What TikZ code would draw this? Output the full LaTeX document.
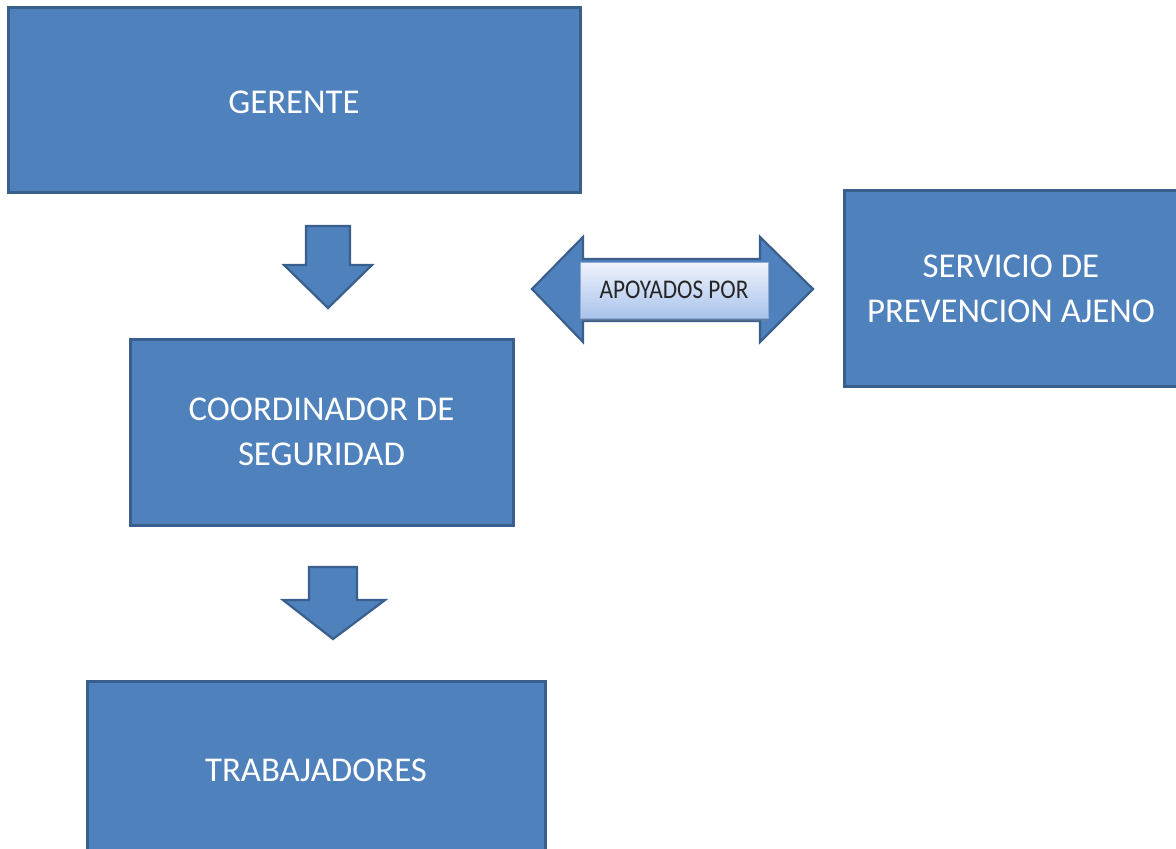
\documentclass[tikz,border=0pt]{standalone}
\usepackage{fontspec}
\setmainfont{Carlito}
\usetikzlibrary{shadows}
\definecolor{boxblue}{HTML}{4F81BD}
\definecolor{boxedge}{HTML}{3A5F8C}
\definecolor{lbltop}{HTML}{EEF3FC}
\definecolor{lblbot}{HTML}{A9C3EC}
\definecolor{lbledge}{HTML}{8EA9D3}
\tikzset{
  orgbox/.style={draw=boxedge, line width=3pt, fill=boxblue, text=white,
    align=center, inner sep=0pt, font=\fontsize{34.8}{45}\selectfont},
  blockarrow/.style={draw=boxedge, line width=2.2pt, fill=boxblue, line join=miter},
  lblbox/.style={draw=lbledge, line width=0.8pt, top color=lbltop, bottom color=lblbot,
    text=black!85, inner sep=0pt, font=\fontsize{27}{30}\selectfont,
    drop shadow={shadow xshift=0pt, shadow yshift=-3pt, opacity=0.35}}
}
\begin{document}
\begin{tikzpicture}[x=1pt,y=-1pt]
\useasboundingbox (0,0) rectangle (1176,849);
\clip (0,0) rectangle (1176,849);
% boxes
\node[orgbox, minimum width=572pt, minimum height=185pt] (ger) at (294,99.5) {\raisebox{-13.5pt}[0pt][0pt]{GERENTE}};
\node[orgbox, minimum width=383pt, minimum height=186pt] (coord) at (321.5,432) {COORDINADOR DE\\SEGURIDAD};
\node[orgbox, minimum width=333pt, minimum height=196pt] (serv) at (1011,288.5) {SERVICIO DE\\PREVENCION AJENO};
\node[orgbox, minimum width=458pt, minimum height=179pt] (trab) at (316,770.5) {TRABAJADORES};
% down arrows
\draw[blockarrow] (306,226) -- (350,226) -- (350,265) -- (372,265) -- (328,308) -- (284,265) -- (306,265) -- cycle;
\draw[blockarrow] (309,567) -- (357,567) -- (357,600) -- (385,600) -- (333,639) -- (283,600) -- (309,600) -- cycle;
% double arrow
\draw[blockarrow] (532,289) -- (583,237) -- (583,259) -- (760,259) -- (760,237) -- (813,289) -- (760,342) -- (760,321) -- (583,321) -- (583,342) -- cycle;
\node[lblbox, minimum width=188pt, minimum height=56pt] (lbl) at (674,290) {\scalebox{0.86}[1]{APOYADOS POR}};
\end{tikzpicture}
\end{document}
